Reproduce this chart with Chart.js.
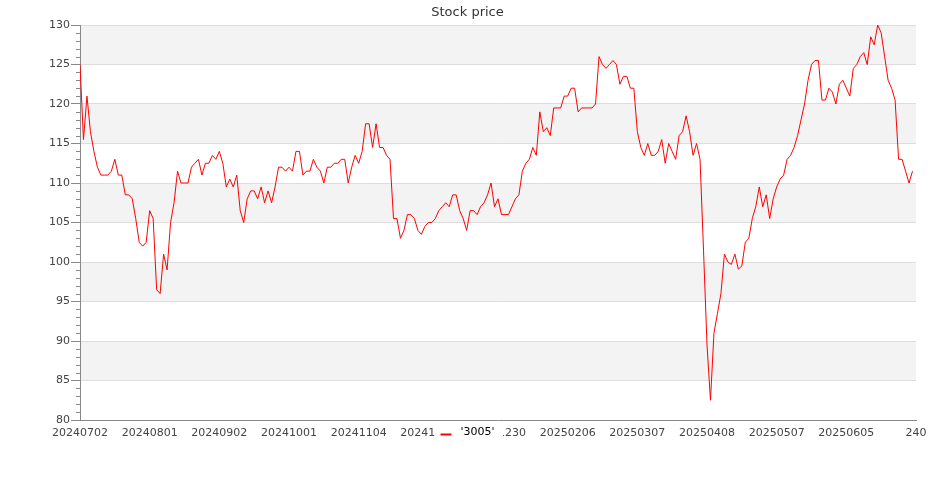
<!DOCTYPE html>
<html>
<head>
<meta charset="utf-8">
<script src="https://cdn.jsdelivr.net/npm/chart.js@4.4.1/dist/chart.umd.min.js"></script>
<style>
  body { margin: 0; background: #fff; }
  #wrap { width: 935px; height: 500px; }
</style>
</head>
<body>
<div id="wrap"><canvas id="myChart"></canvas></div>
<script>
let seriesName = "'3005'";
let tickLabels = ['20240702', '20240801', '20240902', '20241001', '20241104', '20241202', '20241230',
  '20250206', '20250307', '20250408', '20250507', '20250605', '240'];
let prices = [
  125.0, 115.5, 121.0, 116.5, 114.0, 112.0, 111.0, 111.0, 111.0, 111.5,
  113.0, 111.0, 111.0, 108.5, 108.5, 108.0, 105.5, 102.5, 102.0, 102.5,
  106.5, 105.5, 96.5, 96.0, 101.0, 99.0, 105.0, 107.5, 111.5, 110.0,
  110.0, 110.0, 112.0, 112.5, 113.0, 111.0, 112.5, 112.5, 113.5, 113.0,
  114.0, 112.5, 109.5, 110.5, 109.5, 111.0, 106.5, 105.0, 108.0, 109.0,
  109.0, 108.0, 109.5, 107.5, 109.0, 107.5, 109.5, 112.0, 112.0, 111.5,
  112.0, 111.5, 114.0, 114.0, 111.0, 111.5, 111.5, 113.0, 112.0, 111.5,
  110.0, 112.0, 112.0, 112.5, 112.5, 113.0, 113.0, 110.0, 112.0, 113.5,
  112.5, 114.0, 117.5, 117.5, 114.5, 117.5, 114.5, 114.5, 113.5, 113.0,
  105.5, 105.5, 103.0, 104.0, 106.0, 106.0, 105.5, 104.0, 103.5, 104.5,
  105.0, 105.0, 105.5, 106.5, 107.0, 107.5, 107.0, 108.5, 108.5, 106.5,
  105.5, 104.0, 106.5, 106.5, 106.0, 107.0, 107.5, 108.5, 110.0, 107.0,
  108.0, 106.0, 106.0, 106.0, 107.0, 108.0, 108.5, 111.5, 112.5, 113.0,
  114.5, 113.5, 119.0, 116.5, 117.0, 116.0, 119.5, 119.5, 119.5, 121.0,
  121.0, 122.0, 122.0, 119.0, 119.5, 119.5, 119.5, 119.5, 120.0, 126.0,
  125.0, 124.5, 125.0, 125.5, 125.0, 122.5, 123.5, 123.5, 122.0, 122.0,
  116.5, 114.5, 113.5, 115.0, 113.5, 113.5, 114.0, 115.5, 112.5, 115.0,
  114.0, 113.0, 116.0, 116.5, 118.5, 116.5, 113.5, 115.0, 113.0, 101.5,
  89.5, 82.5, 91.0, 93.5, 96.0, 101.0, 100.0, 99.7, 101.0, 99.1,
  99.5, 102.5, 103.0, 105.5, 107.0, 109.5, 107.0, 108.5, 105.5, 108.0,
  109.5, 110.5, 111.0, 113.0, 113.5, 114.5, 116.0, 118.0, 120.0, 123.0,
  125.0, 125.5, 125.5, 120.5, 120.5, 122.0, 121.5, 120.0, 122.5, 123.0,
  122.0, 121.0, 124.5, 125.0, 126.0, 126.5, 125.0, 128.5, 127.5, 130.0,
  129.0, 126.0, 123.0, 122.0, 120.5, 113.0, 113.0, 111.5, 110.0, 111.5
];
let yMin = 80, yMax = 130, yMajor = 5;
let xMax = 240, xStep = 20;

Chart.defaults.font.family = 'DejaVu Sans';
Chart.defaults.font.size = 11;
Chart.defaults.color = '#444';

// alternating grey bands between the major gridlines
let bands = {
  id: 'bands',
  beforeDraw(chart) {
    let c = chart.ctx, a = chart.chartArea, y = chart.scales.y;
    c.save();
    c.fillStyle = '#f3f3f3';
    for (let v = yMax; v > yMin; v -= 2 * yMajor) {
      let top = y.getPixelForValue(v), bot = y.getPixelForValue(v - yMajor);
      c.fillRect(a.left, top, a.right - a.left, bot - top);
    }
    c.restore();
  }
};

// short minor ticks + legend drawn over the tick labels
let extras = {
  id: 'extras',
  afterDraw(chart) {
    let c = chart.ctx, a = chart.chartArea, y = chart.scales.y;
    c.save();
    c.strokeStyle = '#888';
    c.lineWidth = 1;
    c.beginPath();
    for (let v = yMin; v <= yMax; v++) {
      if (v % yMajor === 0) continue;
      let py = Math.round(y.getPixelForValue(v)) + 0.5;
      c.moveTo(a.left - 4, py);
      c.lineTo(a.left, py);
    }
    c.stroke();

    let cx = chart.width / 2;
    c.fillStyle = '#fff';
    c.fillRect(cx - 32.5, 424, 68, 20);
    c.strokeStyle = '#ff0000';
    c.lineWidth = 2;
    c.beginPath();
    c.moveTo(cx - 27, 434.5);
    c.lineTo(cx - 16, 434.5);
    c.stroke();
    c.fillStyle = '#000';
    c.font = '11px "DejaVu Sans"';
    c.textBaseline = 'middle';
    c.fillText(seriesName, cx - 7, 432);
    c.restore();
  }
};

let ctx = document.getElementById('myChart').getContext('2d');
let myChart = new Chart(ctx, {
  type: 'line',
  data: {
    datasets: [{
      label: seriesName,
      data: prices.map((v, i) => ({ x: i, y: v })),
      borderColor: '#ff0000',
      borderWidth: 1,
      pointRadius: 0,
      tension: 0,
      fill: false
    }]
  },
  options: {
    responsive: true,
    maintainAspectRatio: false,
    animation: false,
    layout: { padding: 0 },
    plugins: {
      legend: { display: false },
      tooltip: { enabled: false },
      title: {
        display: true,
        text: 'Stock price',
        color: '#333',
        font: { size: 13, weight: 'normal' },
        padding: { top: 5, bottom: 4.4 }
      }
    },
    scales: {
      x: {
        type: 'linear',
        min: 0,
        max: xMax,
        afterFit: (s) => { s.height = 80; },
        grid: { display: false, drawTicks: false },
        border: { display: true, color: '#888' },
        ticks: {
          stepSize: xStep,
          autoSkip: false,
          maxRotation: 0,
          padding: 7,
          color: '#444',
          callback: (v) => tickLabels[Math.round(v / xStep)]
        }
      },
      y: {
        min: yMin,
        max: yMax,
        afterFit: (s) => { s.width = 80; },
        grid: {
          color: (c) => c.tick && c.tick.value % yMajor === 0 ? '#ddd' : 'rgba(0,0,0,0)',
          tickColor: (c) => c.tick && c.tick.value % yMajor === 0 ? '#888' : 'rgba(0,0,0,0)',
          tickLength: 9
        },
        border: { display: true, color: '#888' },
        ticks: {
          stepSize: 1,
          autoSkip: false,
          padding: 1,
          color: '#444',
          callback: (v) => v % yMajor === 0 ? v : ''
        }
      },
      // empty right-hand margin so the title stays centred on the whole canvas
      r: {
        type: 'linear',
        position: 'right',
        display: true,
        afterFit: (s) => { s.width = 19; },
        grid: { display: false, drawTicks: false },
        border: { display: false },
        ticks: { display: false }
      }
    }
  },
  plugins: [bands, extras]
});
</script>
</body>
</html>
